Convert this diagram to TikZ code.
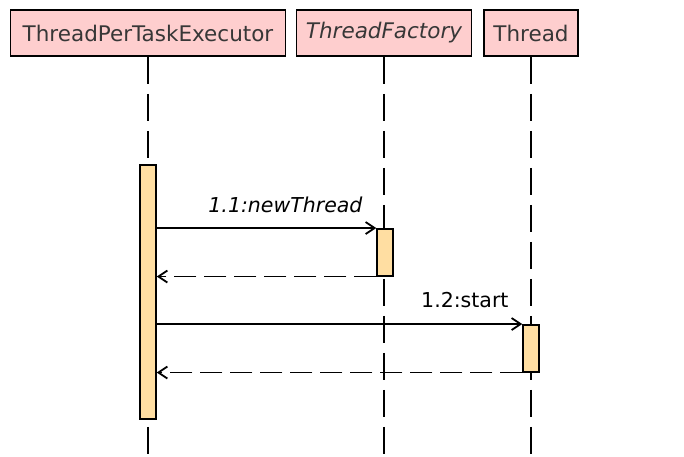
\documentclass[tikz,border=0pt]{standalone}
\usepackage{fontspec}
\setmainfont{DejaVu Sans}
\usetikzlibrary{arrows.meta}
\definecolor{headfill}{RGB}{254,206,206}
\definecolor{barfill}{RGB}{255,222,162}
\definecolor{textgray}{RGB}{55,55,55}
\tikzset{
    head/.style={draw=black, fill=headfill, line width=1.5pt, minimum height=46pt,
        inner sep=0pt, text=textgray, font=\fontsize{21.5}{25}\selectfont},
    lifeline/.style={line width=2pt, dash pattern=on 27pt off 10pt},
    actbar/.style={draw=black, fill=barfill, line width=1.5pt, minimum width=16pt,
        inner sep=0pt, anchor=north},
    call/.style={line width=1.8pt, -{Straight Barb[length=9pt,width=12pt]}},
    reply/.style={call, dash pattern=on 22pt off 8pt},
    msg/.style={anchor=base east, text=black, font=\fontsize{20.5}{24}\selectfont}
}

\begin{document}
\begin{tikzpicture}[x=1pt,y=-1pt]
\useasboundingbox (0,0) rectangle (684,456);
\coordinate (bottom) at (0,456);

% Heads
\node[head, minimum width=275pt] (executor) at (148,33) {ThreadPerTaskExecutor};
\node[head, minimum width=175pt] (factory) at (384,33) {\itshape ThreadFactory};
\node[head, minimum width=94pt] (thread) at (531,33) {Thread};

% Lifelines
\draw[lifeline] (executor.south) -- (executor.south |- bottom);
\draw[lifeline] (factory.south) -- (factory.south |- bottom);
\draw[lifeline] (thread.south) -- (thread.south |- bottom);

% Activations
\node[actbar, minimum height=254pt] (execbar) at (148,164) {};
\node[actbar, minimum height=47pt] (factorybar) at (385,228) {};
\node[actbar, minimum height=47pt] (threadbar) at (531,324) {};

% Messages
\draw[call] (execbar.east |- factorybar.north west) -- (factorybar.north west);
\draw[reply] (factorybar.south west) -- (execbar.east |- factorybar.south west);
\draw[call] (execbar.east |- threadbar.north west) -- (threadbar.north west);
\draw[reply] (threadbar.south west) -- (execbar.east |- threadbar.south west);

% Labels
\node[msg] (newthread) at (366,212) {\itshape 1.1:newThread};
\node[msg] (start) at (512,307) {1.2:start};

\end{tikzpicture}
\end{document}
